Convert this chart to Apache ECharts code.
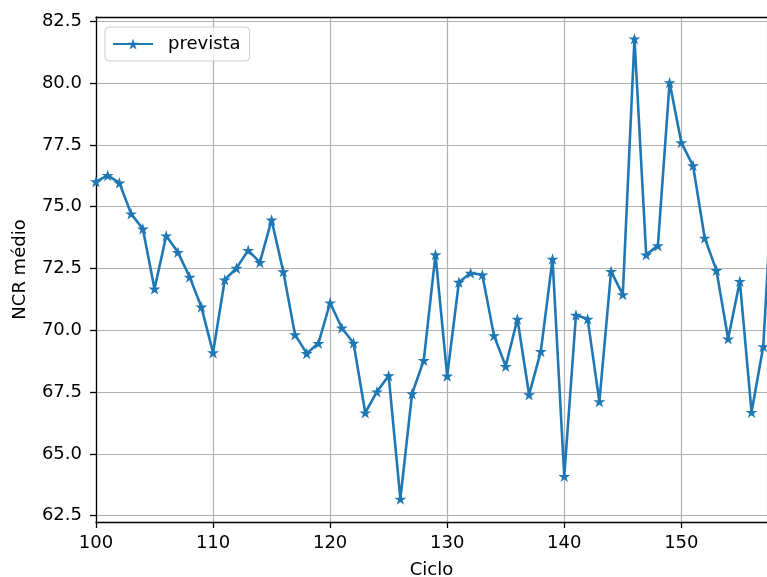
<!DOCTYPE html>
<html>
<head>
<meta charset="utf-8">
<script src="https://cdn.jsdelivr.net/npm/echarts@6/dist/echarts.min.js"></script>
<style>
html,body{margin:0;padding:0;background:#fff;}
#chart{width:767px;height:577px;}
</style>
</head>
<body>
<div id="chart"></div>
<script>
// ---- data ----
const cycles = [100,101,102,103,104,105,106,107,108,109,110,111,112,113,114,115,116,117,118,119,
  120,121,122,123,124,125,126,127,128,129,130,131,132,133,134,135,136,137,138,139,
  140,141,142,143,144,145,146,147,148,149,150,151,152,153,154,155,156,157,158];
const prevista = [76.0,76.25,75.95,74.7,74.09,71.66,73.81,73.14,72.14,70.93,
  69.08,72.03,72.5,73.22,72.73,74.45,72.36,69.81,69.05,69.46,
  71.1,70.08,69.47,66.65,67.5,68.15,63.16,67.42,68.77,73.05,
  68.14,71.93,72.3,72.23,69.77,68.53,70.44,67.38,69.13,72.87,
  64.08,70.6,70.44,67.1,72.37,71.43,81.78,73.04,73.41,80.01,
  77.58,76.65,73.72,72.41,69.64,71.97,66.67,69.33,77.7];
const seriesName = 'prevista';
const xTicks = [100,110,120,130,140,150];
const yTicks = [62.5,65.0,67.5,70.0,72.5,75.0,77.5,80.0,82.5];
const xLabel = 'Ciclo';
const yLabel = 'NCR médio';
const xMin = 100, xMax = 157.32;
const yMin = 62.23, yMax = 82.66;

const STAR = 'path://M100,0 L122.45,69.1 L195.11,69.1 L136.33,111.8 L158.78,180.9 L100,138.2 L41.22,180.9 L63.67,111.8 L4.89,69.1 L77.55,69.1 Z';
const FONT = 'DejaVu Sans';
const COLOR = '#1f77b4';
const FS = 18;

const chart = echarts.init(document.getElementById('chart'), null, {renderer: 'canvas'});
const gridLeft = 96, gridWidth = 671;
const option = {
  backgroundColor: '#fff',
  animation: false,
  textStyle: {fontFamily: FONT},
  grid: [
    {left: gridLeft, top: 17, width: gridWidth, height: 505, show: false, outerBoundsMode: 'none', containLabel: false},
    {left: gridLeft, top: 21.3, width: gridWidth, height: 494.4, show: false, outerBoundsMode: 'none', containLabel: false}
  ],
  xAxis: [
    {
      type: 'value', gridIndex: 0, min: xMin, max: xMax, interval: 10,
      name: xLabel, nameLocation: 'middle', nameGap: 39,
      nameTextStyle: {fontFamily: FONT, fontSize: FS, color: '#000'},
      axisLine: {show: true, lineStyle: {color: '#000', width: 1.3}},
      axisTick: {show: true, length: 6, lineStyle: {color: '#000', width: 1.3}},
      axisLabel: {
        margin: 12, fontFamily: FONT, fontSize: FS, color: '#000',
        showMaxLabel: false,
        formatter: v => xTicks.indexOf(v) >= 0 ? String(v) : ''
      },
      splitLine: {show: true, lineStyle: {color: '#b0b0b0', width: 1.2}}
    },
    {type: 'value', gridIndex: 1, min: xMin, max: xMax, show: false},
    {
      type: 'value', gridIndex: 0, min: xMin, max: xMax, position: 'top',
      axisLine: {show: true, onZero: false, lineStyle: {color: '#000', width: 1.3}},
      axisTick: {show: false}, axisLabel: {show: false}, splitLine: {show: false}
    }
  ],
  yAxis: [
    {
      type: 'value', gridIndex: 0, min: yMin, max: yMax,
      name: yLabel, nameLocation: 'middle', nameGap: 67, nameRotate: 90,
      nameTextStyle: {fontFamily: FONT, fontSize: FS, color: '#000'},
      axisLine: {show: true, onZero: false, lineStyle: {color: '#000', width: 1.3}},
      axisTick: {show: false}, axisLabel: {show: false},
      splitLine: {show: false}
    },
    {
      type: 'value', gridIndex: 1, min: yTicks[0], max: yTicks[yTicks.length - 1], interval: 2.5,
      axisLine: {show: false},
      axisTick: {show: true, length: 6, lineStyle: {color: '#000', width: 1.3}},
      axisLabel: {
        margin: 14, fontFamily: FONT, fontSize: FS, color: '#000',
        formatter: v => v.toFixed(1)
      },
      splitLine: {show: true, lineStyle: {color: '#b0b0b0', width: 1.2}}
    }
  ],
  legend: {
    left: 105, top: 27,
    padding: [8, 9, 8, 7],
    backgroundColor: 'rgba(255,255,255,0.8)',
    borderColor: '#cccccc', borderWidth: 1, borderRadius: 4,
    itemWidth: 40, itemHeight: 14,
    textStyle: {fontFamily: FONT, fontSize: FS, color: '#000', lineHeight: 18, padding: [0, 0, 0, 10]},
    data: [seriesName]
  },
  series: [{
    name: seriesName,
    type: 'line',
    xAxisIndex: 0, yAxisIndex: 0,
    data: cycles.map((c, i) => [c, prevista[i]]),
    symbol: STAR,
    symbolSize: [12, 11.5],
    showAllSymbol: true,
    clip: true,
    lineStyle: {color: COLOR, width: 2.6},
    itemStyle: {color: COLOR, borderWidth: 0},
    z: 3
  }]
};
chart.setOption(option);
</script>
</body>
</html>
